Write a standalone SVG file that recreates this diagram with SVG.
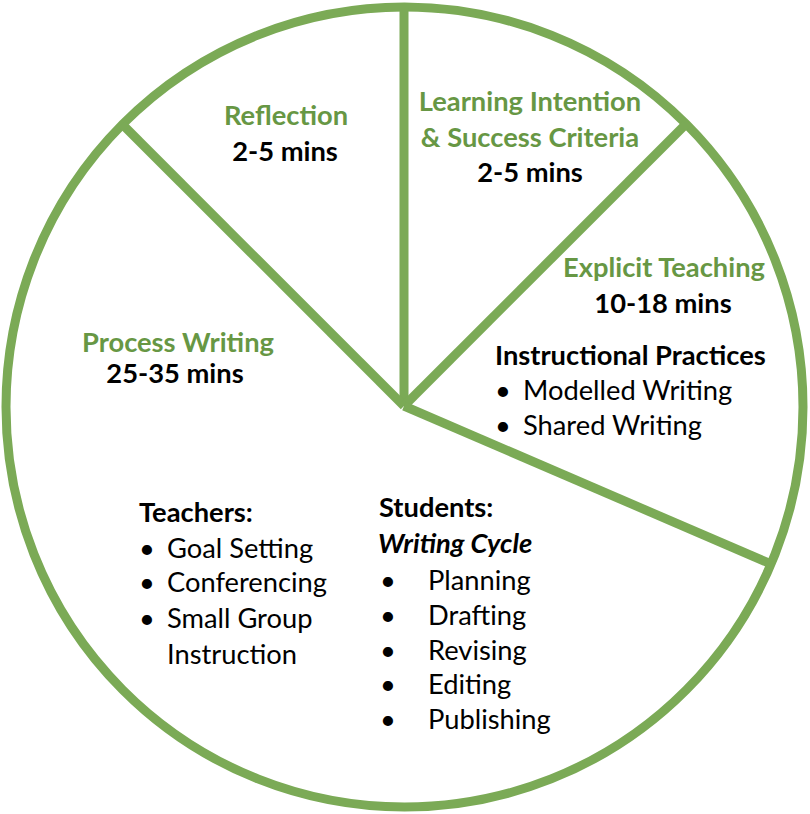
<svg xmlns="http://www.w3.org/2000/svg" width="810" height="814" viewBox="0 0 810 814">
<style>
.t{font-family:Lato,"Open Sans","Liberation Sans",sans-serif;font-size:27.3px}
.g{fill:#679744;font-weight:bold;text-anchor:middle}
.b{fill:#000;font-weight:bold}
.m{text-anchor:middle}
.r{fill:#000;font-weight:normal}
.bi{fill:#000;font-weight:bold;font-style:italic}
.ln{stroke:#7BAA56;stroke-width:9;fill:none}
</style>
<rect width="810" height="814" fill="#fff"/>
<g id="pie">
<ellipse class="ln" cx="404.5" cy="407" rx="398.5" ry="400"/>
</g>
<g id="connectors">
<line class="ln" x1="404" y1="406" x2="404" y2="7"/>
<line class="ln" x1="404" y1="406" x2="122" y2="124"/>
<line class="ln" x1="404" y1="406" x2="686" y2="124"/>
<line class="ln" x1="404" y1="406" x2="771" y2="564"/>
</g>
<g id="reflection">
<text class="t g" x="286" y="125">Reflection</text>
<text class="t b m" x="285" y="161">2-5 mins</text>
</g>
<g id="learning-intention">
<text class="t g" x="530" y="111">Learning Intention</text>
<text class="t g" x="530" y="147">&amp; Success Criteria</text>
<text class="t b m" x="530" y="182">2-5 mins</text>
</g>
<g id="explicit-teaching">
<text class="t g" x="664" y="277">Explicit Teaching</text>
<text class="t b m" x="663" y="313">10-18 mins</text>
<text class="t b" x="495" y="365">Instructional Practices</text>
<text class="t r" x="495" y="400">•</text>
<text class="t r" x="523" y="400">Modelled Writing</text>
<text class="t r" x="495" y="435">•</text>
<text class="t r" x="523" y="435">Shared Writing</text>
</g>
<g id="process-writing">
<text class="t g" x="178" y="352">Process Writing</text>
<text class="t b m" x="175" y="383">25-35 mins</text>
<text class="t b" x="139" y="522">Teachers:</text>
<text class="t r" x="139" y="558">•</text>
<text class="t r" x="167" y="558">Goal Setting</text>
<text class="t r" x="139" y="592">•</text>
<text class="t r" x="167" y="592">Conferencing</text>
<text class="t r" x="139" y="628">•</text>
<text class="t r" x="167" y="628">Small Group</text>
<text class="t r" x="167" y="664">Instruction</text>
<text class="t b" x="379" y="517">Students:</text>
<text class="t bi" x="378" y="553">Writing Cycle</text>
<text class="t r" x="380" y="590">•</text>
<text class="t r" x="428" y="590">Planning</text>
<text class="t r" x="380" y="625">•</text>
<text class="t r" x="428" y="625">Drafting</text>
<text class="t r" x="380" y="660">•</text>
<text class="t r" x="428" y="660">Revising</text>
<text class="t r" x="380" y="694">•</text>
<text class="t r" x="428" y="694">Editing</text>
<text class="t r" x="380" y="729">•</text>
<text class="t r" x="428" y="729">Publishing</text>
</g>
</svg>
